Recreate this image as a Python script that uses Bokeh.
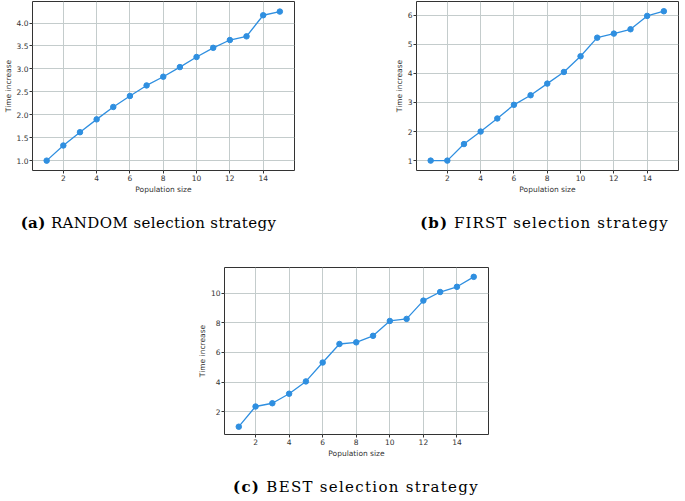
from bokeh.plotting import figure
from bokeh.layouts import column, row
from bokeh.models import Div, Spacer, Range1d, FixedTicker, ColumnDataSource
from bokeh.embed import file_html
from bokeh.resources import INLINE

pop = list(range(1, 16))
random_vals = [1.0, 1.33, 1.62, 1.90, 2.17, 2.41, 2.64, 2.83, 3.04, 3.26, 3.46, 3.63, 3.71, 4.17, 4.25]
first_vals = [1.0, 1.0, 1.57, 2.0, 2.45, 2.92, 3.25, 3.65, 4.05, 4.59, 5.23, 5.37, 5.52, 5.98, 6.14]
best_vals = [1.0, 2.36, 2.58, 3.22, 4.05, 5.32, 6.57, 6.68, 7.12, 8.12, 8.26, 9.49, 10.07, 10.42, 11.09]

x_ticks = [2, 4, 6, 8, 10, 12, 14]
ticks_a = [1.0, 1.5, 2.0, 2.5, 3.0, 3.5, 4.0]
ticks_b = [1, 2, 3, 4, 5, 6]
ticks_c = [2, 4, 6, 8, 10]

captions = ["RANDOM selection strategy", "FIRST selection strategy", "BEST selection strategy"]
tags = ["(a)", "(b)", "(c)"]

BLUE = "#2f8fe0"
FONT = "DejaVu Sans"
FS = "7.5px"


def make_plot(yvals, yticks, yrange, fmt, fw, fh, left, right):
    p = figure(frame_width=fw, frame_height=fh, output_backend="svg", toolbar_location=None,
               x_range=Range1d(0.15, 15.88), y_range=Range1d(*yrange),
               min_border_left=left, min_border_right=right, min_border_top=1, min_border_bottom=22)
    src = ColumnDataSource(dict(x=pop, y=yvals))
    p.line("x", "y", source=src, line_color=BLUE, line_width=1.3)
    p.scatter("x", "y", source=src, size=5.5, fill_color=BLUE, line_color=BLUE)
    p.xaxis.ticker = FixedTicker(ticks=x_ticks)
    p.yaxis.ticker = FixedTicker(ticks=yticks)
    p.yaxis.major_label_overrides = {t: fmt.format(t) for t in yticks}
    p.xaxis.axis_label = "Population size"
    p.yaxis.axis_label = "Time increase"
    for ax in (p.xaxis[0], p.yaxis[0]):
        ax.axis_line_color = None
        ax.major_tick_out = 3
        ax.major_tick_in = 0
        ax.minor_tick_line_color = None
        ax.major_tick_line_color = "#333333"
        ax.major_label_text_font = FONT
        ax.major_label_text_font_size = FS
        ax.major_label_text_color = "#333333"
        ax.major_label_standoff = 1
        ax.axis_label_text_font = FONT
        ax.axis_label_text_font_size = FS
        ax.axis_label_text_font_style = "normal"
        ax.axis_label_text_color = "#333333"
        ax.axis_label_standoff = 1
    p.grid.grid_line_color = "#c4cccc"
    p.grid.grid_line_width = 1
    p.outline_line_color = "#333333"
    p.outline_line_width = 1
    p.background_fill_color = "white"
    p.border_fill_color = "white"
    return p


def caption(i, width, height, pad, spacing):
    return Div(text=f"<b>{tags[i]}</b> {captions[i]}", width=width, height=height,
               styles={"font-family": "DejaVu Serif", "font-size": "15px", "text-align": "center",
                       "letter-spacing": f"{spacing}px", "color": "black", "white-space": "nowrap",
                       "padding-top": f"{pad}px", "box-sizing": "border-box"})


pa = make_plot(random_vals, ticks_a, (0.785, 4.47), "{:.1f}", 262, 169, 30, 3)
pb = make_plot(first_vals, ticks_b, (0.66, 6.475), "{:d}", 262, 169, 36, 2)
pc = make_plot(best_vals, ticks_c, (0.475, 11.72), "{:d}", 264, 167, 36, 3)

top = row(pa, Spacer(width=83, height=10), pb)
caps = row(caption(0, 287, 60, 12, 0.4), Spacer(width=110, height=10), caption(1, 265, 60, 12, 1.1))
bottom = row(Spacer(width=188, height=10), pc)
capc = row(Spacer(width=211, height=10), caption(2, 280, 30, 12, 1.3))

layout = column(top, caps, bottom, capc)

open("out.html", "w").write(file_html(layout, INLINE))
